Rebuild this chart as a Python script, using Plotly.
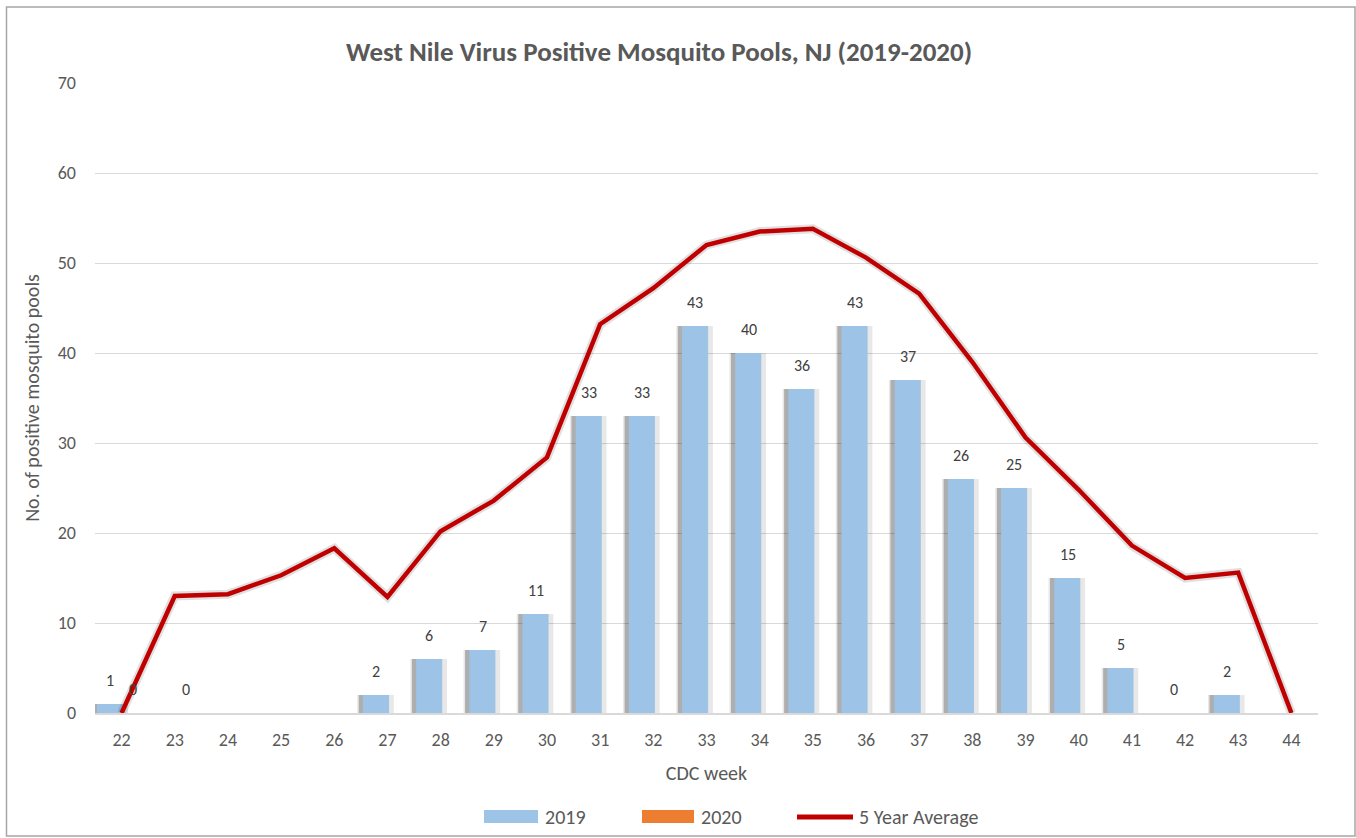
import plotly.graph_objects as go

weeks = list(range(22, 45))
cases_2019 = [1, None, None, None, None, 2, 6, 7, 11, 33, 33, 43, 40, 36, 43, 37, 26, 25, 15, 5, 0, 2, None]
cases_2020 = [0, 0] + [None] * 21
avg_5yr = [0, 13.0, 13.2, 15.3, 18.3, 12.9, 20.2, 23.6, 28.4, 43.2, 47.2, 52.0, 53.5, 53.8,
           50.6, 46.6, 39.0, 30.6, 24.8, 18.6, 15.0, 15.6, 0]

FONT = "Carlito, Calibri, Lato, sans-serif"
TXT = "#595959"
C2019 = "#9dc3e6"
C2020 = "#ed7d31"
CAVG = "#c00000"

W, H = 1356, 838
L, R, T, B = 95, 38, 83, 125
PW, PH = W - L - R, H - T - B


def px(x):
    return (x - L) / PW


def py(y):
    return (H - B - y) / PH


BAR_OFF = -0.46
BAR_W = 0.49

fig = go.Figure()

fig.add_trace(go.Bar(x=weeks, y=cases_2019, offset=BAR_OFF - 0.11, width=BAR_W + 0.2,
                     marker=dict(color="rgba(0,0,0,0.09)", line=dict(width=0)),
                     showlegend=False, hoverinfo="skip"))
fig.add_trace(go.Bar(x=weeks, y=cases_2019, offset=BAR_OFF - 0.08, width=BAR_W + 0.06,
                     marker=dict(color="rgba(0,0,0,0.25)", line=dict(width=0)),
                     showlegend=False, hoverinfo="skip"))
fig.add_trace(go.Bar(x=weeks, y=cases_2019, name="2019", offset=BAR_OFF, width=BAR_W,
                     marker=dict(color=C2019, line=dict(width=0)), showlegend=False))
fig.add_trace(go.Bar(x=weeks, y=cases_2020, name="2020", offset=0.04, width=BAR_W,
                     marker=dict(color=C2020, line=dict(width=0)), showlegend=False))
fig.add_trace(go.Scatter(x=weeks, y=avg_5yr, mode="lines",
                         line=dict(color="rgba(0,0,0,0.12)", width=9),
                         showlegend=False, hoverinfo="skip"))
fig.add_trace(go.Scatter(x=weeks, y=avg_5yr, mode="lines", name="5 Year Average",
                         line=dict(color=CAVG, width=4.5), showlegend=False))

annotations = []
for w, v in zip(weeks, cases_2019):
    if v is not None:
        annotations.append(dict(x=w - 0.21, y=v, xref="x", yref="y", text=str(v),
                                showarrow=False, yshift=24,
                                font=dict(family=FONT, size=16, color="#404040")))
for w, v in zip(weeks, cases_2020):
    if v is not None:
        annotations.append(dict(x=w + 0.21, y=v, xref="x", yref="y", text=str(v),
                                showarrow=False, yshift=24,
                                font=dict(family=FONT, size=16, color="#404040")))

# legend (custom, to mimic wide swatches)
leg_y = py(817)
legend_items = [("2019", C2019, "bar", 484, 538, 543),
                ("2020", C2020, "bar", 642, 694, 699),
                ("5 Year Average", CAVG, "line", 797, 853, 857)]
shapes = []
for name, col, kind, x0, x1, tx in legend_items:
    if kind == "bar":
        shapes.append(dict(type="rect", xref="paper", yref="paper",
                           x0=px(x0), x1=px(x1), y0=py(823), y1=py(810),
                           fillcolor=col, line=dict(width=0)))
    else:
        shapes.append(dict(type="line", xref="paper", yref="paper",
                           x0=px(x0), x1=px(x1), y0=leg_y, y1=leg_y,
                           line=dict(color=col, width=5)))
    annotations.append(dict(x=px(tx), y=leg_y, xref="paper", yref="paper", text=name,
                            showarrow=False, xanchor="left", yanchor="middle",
                            font=dict(family=FONT, size=20, color=TXT)))

# chart border
shapes.append(dict(type="rect", xref="paper", yref="paper",
                   x0=px(6.5), x1=px(1355), y0=py(836), y1=py(7),
                   line=dict(color="#a6a6a6", width=1.5), fillcolor="rgba(0,0,0,0)"))

fig.update_layout(
    width=W, height=H,
    margin=dict(l=L, r=R, t=T, b=B, autoexpand=False),
    paper_bgcolor="white", plot_bgcolor="white",
    barmode="overlay",
    font=dict(family=FONT, size=18, color=TXT),
    title=dict(text="<b>West Nile Virus Positive Mosquito Pools, NJ (2019-2020)</b>",
               x=659 / W, xanchor="center", xref="container",
               y=1 - 52 / H, yanchor="middle", yref="container",
               font=dict(family=FONT, size=27, color=TXT)),
    xaxis=dict(range=[21.5, 44.5], tickmode="array", tickvals=weeks,
               ticktext=[str(w) for w in weeks], showgrid=False,
               showline=True, linecolor="#d9d9d9", linewidth=1.5, zeroline=False,
               ticks="", ticklabelstandoff=10, automargin=False,
               tickfont=dict(family=FONT, size=18, color=TXT),
               title=dict(text="CDC week", standoff=16,
                          font=dict(family=FONT, size=20, color=TXT))),
    yaxis=dict(range=[0, 70], dtick=10, showgrid=True, gridcolor="#d9d9d9", gridwidth=1,
               zeroline=False, showline=False, ticks="", ticklabelstandoff=18,
               automargin=False,
               tickfont=dict(family=FONT, size=18, color=TXT),
               title=dict(text="No. of positive mosquito pools", standoff=12,
                          font=dict(family=FONT, size=20, color=TXT))),
    showlegend=False,
    annotations=annotations,
    shapes=shapes,
)

fig.write_html("out.html", post_script="document.body.style.margin='0';",
               config={"displayModeBar": False})
